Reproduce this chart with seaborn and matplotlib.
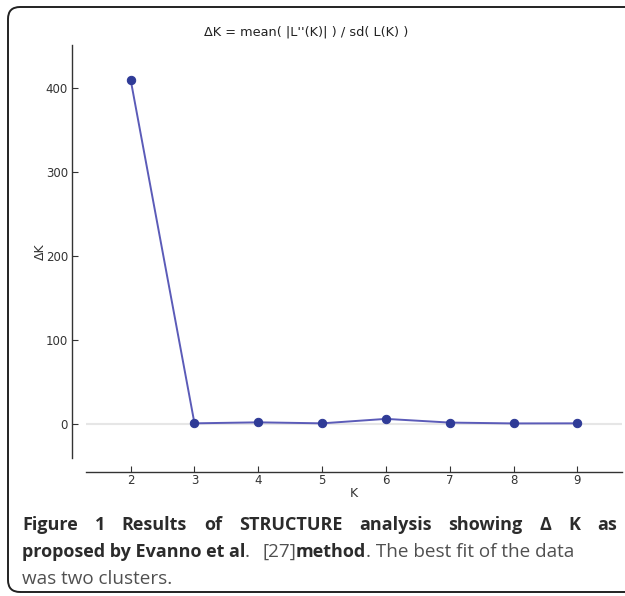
import numpy as np
import pandas as pd
import seaborn as sns
import matplotlib
matplotlib.use("Agg")
import matplotlib.pyplot as plt
from matplotlib.patches import FancyBboxPatch
from matplotlib.transforms import IdentityTransform

# ---- data ----
k_values = [2, 3, 4, 5, 6, 7, 8, 9]
delta_k = [409.5, 0.3, 1.5, 0.3, 5.6, 1.2, 0.2, 0.3]
y_ticks = [0, 100, 200, 300, 400]
title_text = "ΔK = mean( |L''(K)| ) / sd( L(K) )"
caption_line1 = ["Figure", "1", "Results", "of", "STRUCTURE", "analysis", "showing", "Δ", "K", "as"]
caption_line2 = [("proposed by Evanno et al", "bold"), (".", "normal"), ("[27]", "normal"),
                 ("method", "bold"), (". The best fit of the data", "normal")]
caption_line3 = "was two clusters."

sns.set_theme(style="white")
plt.rcParams['font.family'] = ['DejaVu Sans']

W, H = 625, 596
fig = plt.figure(figsize=(W / 100, H / 100), dpi=100)
ax = fig.add_axes([86 / W, 1 - 458 / H, (622 - 86) / W, (458 - 45) / H])

df = pd.DataFrame({"K": k_values, "dK": delta_k})
ax.axhline(0, color="#e6e6e6", lw=1.5, zorder=0)
sns.lineplot(data=df, x="K", y="dK", ax=ax, color="#5b5bb8", lw=1.4,
             marker="o", markersize=6, markerfacecolor="#2f3b97",
             markeredgecolor="#2f3b97", zorder=3)

ax.set_xlim(1.3, 9.7)
ax.set_ylim(-41, 451)
ax.set_xticks(k_values)
ax.set_yticks(y_ticks)
ax.set_xlabel("K", fontsize=9, color="#333333", labelpad=0)
ax.set_ylabel("ΔK", fontsize=9, color="#333333", labelpad=-1)
ax.text(0.41, 1.0 + 13 / 413, title_text, transform=ax.transAxes,
        fontsize=9.3, color="#222222", ha="center", va="center")
ax.tick_params(direction="in", length=4, width=0.8, colors="#333333",
               labelsize=8.5, left=True, bottom=True)
ax.tick_params(axis="x", pad=1.5)
ax.tick_params(axis="y", pad=3)
sns.despine(ax=ax, offset=10)
for s in ("left", "bottom"):
    ax.spines[s].set_color("#333333")
    ax.spines[s].set_linewidth(1.0)

# ---- caption ----
cap_font = "Open Sans"
fs = 13
fig.canvas.draw()
r = fig.canvas.get_renderer()

# line 1, justified between x=22 and x=617
y1 = H - 530
texts = []
for w in caption_line1:
    t = fig.text(0, 0, w, fontsize=fs, fontweight="bold", family=cap_font,
                 color="#2b2b2b", transform=IdentityTransform(), va="baseline")
    texts.append(t)
widths = [t.get_window_extent(r).width for t in texts]
gap = (617 - 22 - sum(widths)) / (len(texts) - 1)
x = 22
for t, wd in zip(texts, widths):
    t.set_position((x, y1))
    x += wd + gap

# line 2: pieces flow one after another; "[27]" starts after a wider gap
y2 = H - 557
start_x = {0: 22, 1: 245, 2: 262}
x = 22
for i, (txt, wt) in enumerate(caption_line2):
    x = start_x.get(i, x)
    t = fig.text(x, y2, txt, fontsize=fs if wt == "bold" else fs + 0.6,
                 fontweight=wt, family=cap_font,
                 color="#2b2b2b" if wt == "bold" else "#505050",
                 transform=IdentityTransform(), va="baseline")
    x += t.get_window_extent(r).width

# line 3
fig.text(22, H - 584, caption_line3, fontsize=fs + 0.6, family=cap_font,
         color="#505050", transform=IdentityTransform(), va="baseline")

# ---- rounded frame ----
frame = FancyBboxPatch((8, H - 592), 700, 585,
                       boxstyle="round,pad=0,rounding_size=12",
                       transform=IdentityTransform(), fill=False,
                       edgecolor="#222222", lw=1.4)
fig.patches.append(frame)

fig.savefig("out.png", dpi=100)
